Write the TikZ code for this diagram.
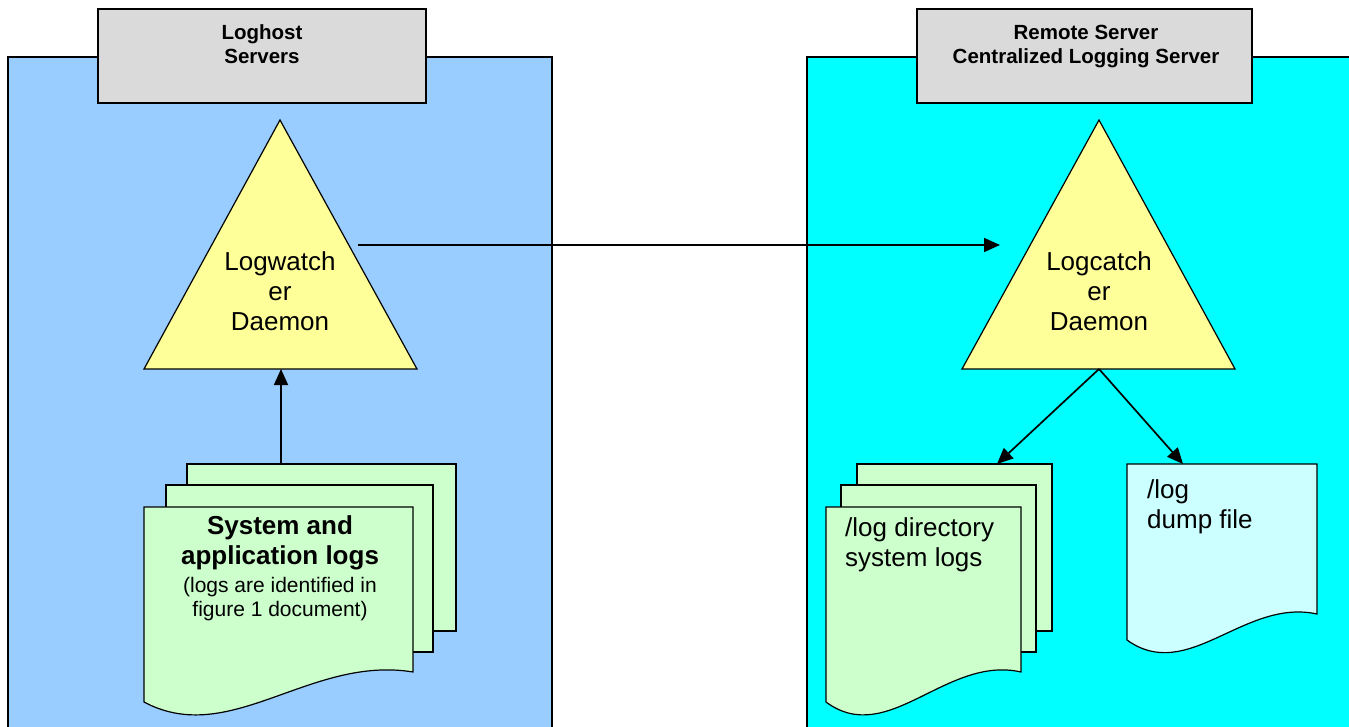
\documentclass[tikz,border=0pt]{standalone}
\usepackage{fontspec}
\setmainfont{Liberation Sans}
\usetikzlibrary{arrows.meta}
\definecolor{lblue}{HTML}{99CCFF}
\definecolor{cyanbg}{HTML}{00FFFF}
\definecolor{hdrgray}{HTML}{DADADA}
\definecolor{triyellow}{HTML}{FFFF99}
\definecolor{pagegreen}{HTML}{CCFFCC}
\definecolor{pagecyan}{HTML}{CCFFFF}
\begin{document}
\begin{tikzpicture}[x=1pt,y=-1pt,
  panel/.style={draw=black, line width=1.6pt},
  hdrbox/.style={draw=black, fill=hdrgray, line width=1.6pt},
  tribox/.style={draw=black, fill=triyellow, line width=1.2pt},
  pagebox/.style={draw=black, fill=pagegreen, line width=1.2pt},
  dumpbox/.style={draw=black, fill=pagecyan, line width=1.2pt},
  conn/.style={-{Triangle[length=16pt,width=14pt]}, line width=1.7pt},
  hdrtxt/.style={font=\bfseries\fontsize{20.5}{24}\selectfont, align=center, inner sep=0pt},
  bigtxt/.style={font=\fontsize{26}{30}\selectfont, align=center, inner sep=0pt},
  boldtxt/.style={font=\bfseries\fontsize{26}{30}\selectfont, align=center, inner sep=0pt},
  smalltxt/.style={font=\fontsize{21}{24}\selectfont, align=center, inner sep=0pt},
  lefttxt/.style={font=\fontsize{26}{30}\selectfont, align=left, anchor=west, inner sep=0pt}]
\useasboundingbox (0,0) rectangle (1349,727);
\clip (0,0) rectangle (1349,727);
\fill[white] (0,0) rectangle (1349,727);
% panels
\filldraw[panel, fill=lblue] (8,57) rectangle (552,745);
\filldraw[panel, fill=cyanbg] (807,57) rectangle (1365,745);
% headers
\filldraw[hdrbox] (98,9) rectangle (426,103);
\node[hdrtxt] (hl) at (262,44) {Loghost\\Servers};
\filldraw[hdrbox] (917,9) rectangle (1252,103);
\node[hdrtxt] (hr) at (1086,47) {Remote Server\\Centralized Logging Server};
% triangles
\filldraw[tribox] (280,120) -- (417,369) -- (144,369) -- cycle;
\node[bigtxt] (lw) at (280,291) {Logwatch\\er\\Daemon};
\filldraw[tribox] (1099,120) -- (1235,369) -- (962,369) -- cycle;
\node[bigtxt] (lc) at (1099,291) {Logcatch\\er\\Daemon};
\coordinate (lwout) at (358,245);
\coordinate (lcin) at (1000,245);
\coordinate (lwbase) at (281,369);
\coordinate (lcbase) at (1099,369);
% left stack
\filldraw[pagebox] (187,464) rectangle (456,631);
\filldraw[pagebox] (166,485) rectangle (433,652);
\filldraw[pagebox] (144,507) -- (413,507) -- (413,672) .. controls (310,655) and (230,748) .. (144,702) -- cycle;
\coordinate (lstop) at (281,464);
\node[boldtxt] (sys) at (280,543) {System and\\application logs};
\node[smalltxt] (sysn) at (280,599) {(logs are identified in\\figure 1 document)};
% right stack
\filldraw[pagebox] (857,464) rectangle (1052,631);
\filldraw[pagebox] (841,485) rectangle (1036,652);
\filldraw[pagebox] (826,507) -- (1021,507) -- (1021,672) .. controls (946,655) and (888,748) .. (826,702) -- cycle;
\coordinate (rstop) at (997,464);
\node[lefttxt] (dir) at (845,545) {/log directory\\system logs};
% dump file
\filldraw[dumpbox] (1127,464) -- (1317,464) -- (1317,614) .. controls (1244,598) and (1188,684) .. (1127,640) -- cycle;
\coordinate (dtop) at (1183,464);
\node[lefttxt] (dump) at (1147,507) {/log\\dump file};
% connectors
\draw[conn] (lwout) -- (lcin);
\draw[conn] (lstop) -- (lwbase);
\draw[conn] (lcbase) -- (rstop);
\draw[conn] (lcbase) -- (dtop);
\end{tikzpicture}
\end{document}
